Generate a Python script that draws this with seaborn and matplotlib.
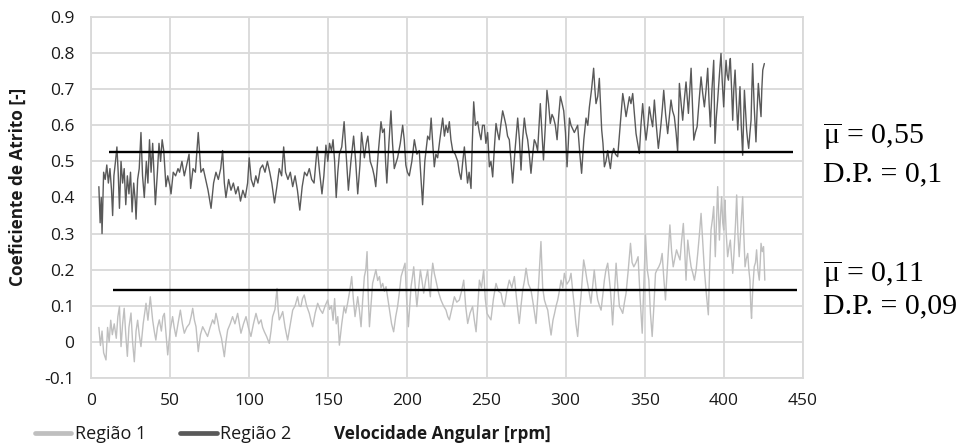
import numpy as np
import pandas as pd
import matplotlib
matplotlib.use("Agg")
import matplotlib.pyplot as plt
from matplotlib.lines import Line2D
import seaborn as sns

# ---------------- data ----------------
x_ticks = [0, 50, 100, 150, 200, 250, 300, 350, 400, 450]
y_ticks = [-0.1, 0, 0.1, 0.2, 0.3, 0.4, 0.5, 0.6, 0.7, 0.8, 0.9]

# Região 2 (dark): (rpm, coeficiente)
regiao2_a = [(5, 0.43), (5.8, 0.33), (6.5, 0.40), (7, 0.30), (8, 0.47), (9, 0.45), (10, 0.49), (11, 0.44),
             (12, 0.48), (13, 0.42), (13.7, 0.35), (14.5, 0.46), (15.5, 0.50), (16.4, 0.54), (17.2, 0.47),
             (18, 0.37), (19, 0.50), (20, 0.44), (21, 0.48), (22, 0.38), (23, 0.46), (24, 0.41), (25, 0.47),
             (26, 0.36), (27, 0.44), (28, 0.39), (28.5, 0.34), (29.5, 0.45), (30.5, 0.48), (31.6, 0.58),
             (32.6, 0.46), (33.7, 0.40), (35, 0.50), (36, 0.44), (37, 0.56), (38, 0.47), (39, 0.55), (40, 0.45),
             (40.7, 0.38), (42, 0.47), (43, 0.55), (44, 0.50), (45, 0.56), (46, 0.53), (47.4, 0.43), (48.5, 0.46),
             (50, 0.43), (50.6, 0.41), (52, 0.47), (53.5, 0.46), (55, 0.48), (56, 0.47), (57.5, 0.50), (59, 0.46),
             (60.5, 0.49), (62, 0.52), (63, 0.425), (64.5, 0.48), (66, 0.47), (67.8, 0.58), (69.5, 0.47),
             (71, 0.48), (72.5, 0.45), (74, 0.42), (75.9, 0.37), (77.5, 0.44), (79, 0.47), (80.5, 0.45),
             (82, 0.48), (83.2, 0.53), (84.3, 0.44), (85.3, 0.40), (87, 0.45), (88.5, 0.42), (90, 0.44),
             (91.5, 0.41), (93, 0.43), (94.5, 0.39), (96, 0.42), (97.5, 0.40), (99, 0.44), (100, 0.51),
             (101.3, 0.45), (102.8, 0.43), (104.2, 0.46), (105.5, 0.44), (107, 0.48), (108.5, 0.49), (110, 0.47),
             (111.5, 0.50), (113, 0.47), (114.3, 0.44), (116, 0.385), (117.5, 0.43), (119, 0.48), (120.5, 0.46),
             (121.8, 0.54), (123, 0.47), (124.5, 0.45), (126, 0.47), (127.5, 0.43), (129, 0.46), (130.5, 0.42),
             (132, 0.365), (133.5, 0.43), (135, 0.47), (136.5, 0.46), (138, 0.48), (139.5, 0.45), (141, 0.44),
             (143, 0.54), (144.5, 0.47), (146, 0.41), (147.2, 0.46), (148.5, 0.545), (149.7, 0.50), (150.8, 0.55)]
regiao2_b = [(152, 0.53), (153, 0.56), (154, 0.50), (155, 0.40), (156, 0.47), (157, 0.52), (158.5, 0.54),
             (160, 0.61), (161.3, 0.52), (162.7, 0.42), (164.3, 0.50), (166, 0.57), (167.3, 0.50), (168.6, 0.41),
             (170, 0.49), (171, 0.58), (172.8, 0.51), (174, 0.55), (175, 0.57), (176.5, 0.50), (178, 0.48),
             (179, 0.46), (180, 0.43), (181.5, 0.52), (183.3, 0.61), (184.3, 0.58), (185.4, 0.59), (186.2, 0.50),
             (187, 0.44), (188.3, 0.55), (189.6, 0.64), (190.6, 0.55), (191.7, 0.48), (193.8, 0.51), (195.5, 0.55),
             (197, 0.60), (198, 0.56), (199, 0.49), (200, 0.47), (201.2, 0.46), (202.8, 0.50), (204.4, 0.56),
             (206, 0.52), (207.5, 0.53), (208.5, 0.46), (209.6, 0.38), (211, 0.50), (212.8, 0.57), (214, 0.56),
             (215, 0.62), (216, 0.55), (217, 0.485), (218, 0.52), (219.1, 0.51), (220.5, 0.56), (222.3, 0.62),
             (223.4, 0.57), (224.4, 0.60), (225.5, 0.58), (226.5, 0.61), (227.5, 0.56), (228.6, 0.53),
             (230.2, 0.52), (231.8, 0.50), (232.8, 0.47), (233.9, 0.45), (235, 0.50), (236, 0.54), (237, 0.49),
             (238, 0.44), (239, 0.47), (240.2, 0.425), (241, 0.55), (241.9, 0.665), (243, 0.60), (244.4, 0.61),
             (245.5, 0.58), (246.5, 0.56), (247.5, 0.60), (248.6, 0.60), (249.6, 0.55), (250.7, 0.58),
             (251.8, 0.485), (252.8, 0.50), (253.9, 0.457), (255, 0.54), (256, 0.605), (257, 0.58), (258, 0.56),
             (259, 0.60), (260.2, 0.64), (261.3, 0.62), (262.3, 0.60), (263.3, 0.57), (264.4, 0.56), (265.5, 0.50),
             (266.5, 0.44), (268, 0.53), (269.7, 0.62), (270.8, 0.56), (271.8, 0.476), (272.8, 0.56), (273.9, 0.62),
             (275, 0.58), (276, 0.56), (277, 0.52), (278.1, 0.467), (279.2, 0.52), (280.2, 0.56), (281.2, 0.55),
             (282.3, 0.53), (283.2, 0.60), (284, 0.66), (285, 0.58), (286, 0.504), (287.2, 0.60), (288.2, 0.697),
             (289.2, 0.66), (290.3, 0.605), (291.4, 0.63), (292.4, 0.62), (293.5, 0.60), (294.6, 0.56),
             (295.7, 0.63), (296.7, 0.68), (297.8, 0.66), (298.8, 0.64), (299.9, 0.58), (300.9, 0.485),
             (301.7, 0.55), (302.4, 0.62)]
regiao2_c = [(303.4, 0.60), (305.5, 0.58), (307.6, 0.60), (309, 0.52), (310.1, 0.467), (311.5, 0.56),
             (312.9, 0.62), (314, 0.60), (315, 0.65), (316.4, 0.70), (317.7, 0.758), (318.5, 0.70), (319.2, 0.66),
             (320.3, 0.68), (321.3, 0.73), (322.8, 0.587), (323.6, 0.55), (324.5, 0.485), (325.5, 0.50),
             (326.6, 0.53), (327.5, 0.50), (328.3, 0.48), (329.3, 0.52), (330.4, 0.536), (331.5, 0.52),
             (332.9, 0.513), (334.5, 0.60), (336.1, 0.688), (337.1, 0.66), (338.2, 0.624), (339.2, 0.65),
             (340.3, 0.679), (341.3, 0.66), (342.4, 0.688), (343.5, 0.63), (344.5, 0.577), (345.5, 0.55),
             (346.6, 0.522), (347.6, 0.60), (348.7, 0.66), (349.8, 0.60), (350.8, 0.559), (351.9, 0.60),
             (352.9, 0.651), (354, 0.62), (355, 0.596), (356.1, 0.67), (357.3, 0.60), (358.6, 0.536), (359.5, 0.57),
             (360.3, 0.605), (361.2, 0.65), (362, 0.697), (363.2, 0.63), (364.5, 0.577), (365.5, 0.62),
             (366.6, 0.67), (367.6, 0.64), (368.7, 0.624), (369.8, 0.58), (370.8, 0.527), (371.9, 0.716),
             (373, 0.66), (374, 0.614), (375, 0.67), (376.1, 0.72), (376.8, 0.68), (377.6, 0.633), (378.5, 0.70),
             (379.3, 0.758), (380.2, 0.65), (381, 0.559), (382, 0.58), (383.1, 0.596), (384.4, 0.67),
             (385.6, 0.734), (386.6, 0.69), (387.7, 0.651), (388.8, 0.70), (389.8, 0.758), (390.7, 0.66),
             (391.5, 0.596), (392.5, 0.70), (393.6, 0.78), (394.4, 0.55), (395.2, 0.62), (396.1, 0.67),
             (397.2, 0.74), (398.2, 0.799), (399, 0.72), (399.9, 0.651), (400.6, 0.72), (401.4, 0.78),
             (402.1, 0.74), (402.9, 0.725), (403.5, 0.76), (404.1, 0.785), (404.9, 0.70), (405.6, 0.614),
             (406.3, 0.70), (407.1, 0.753), (408, 0.66), (408.8, 0.587), (409.5, 0.65), (410.2, 0.707), (411, 0.60),
             (411.9, 0.517), (412.4, 0.60), (413, 0.697), (413.7, 0.64), (414.4, 0.587), (415, 0.56),
             (415.7, 0.536), (416.5, 0.58), (417.2, 0.614), (417.7, 0.70), (418.2, 0.771), (419.2, 0.65),
             (420.3, 0.554), (421, 0.64), (421.8, 0.716), (422.6, 0.67), (423.5, 0.624), (424, 0.70),
             (424.6, 0.753), (425.6, 0.771)]

# Região 1 (light): (rpm, coeficiente)
regiao1_a = [(5, 0.04), (6, -0.01), (7, 0.03), (8, -0.03), (9.5, -0.05), (10.5, 0.04), (11.5, 0.0), (12.5, 0.06),
             (13.5, 0.02), (14.7, 0.05), (16, 0.01), (17, 0.07), (18, 0.098), (19, -0.013), (20, 0.05), (21, 0.093),
             (22, 0.02), (23, -0.04), (24, 0.04), (25.3, 0.08), (26.3, 0.0), (27.4, -0.055), (28.5, 0.03),
             (29.5, 0.06), (30.5, 0.02), (31.6, -0.013), (33, 0.05), (34.8, 0.107), (36, 0.06), (37.5, 0.125),
             (38.3, 0.09), (39, 0.06), (40, 0.03), (41, 0.005), (42, 0.04), (43.2, 0.061), (44.5, 0.03),
             (45.5, 0.07), (46.4, 0.079), (47.5, 0.02), (48.5, -0.036), (50, 0.03), (51.6, 0.07), (52.6, 0.04),
             (53.7, 0.015), (55, 0.05), (56.5, 0.088), (57.8, 0.05), (59, 0.024), (60.5, 0.04), (62.2, 0.05),
             (63.3, 0.07), (64.3, 0.093), (65.4, 0.06), (66.4, 0.042), (67.8, -0.027), (69.2, 0.02), (70.6, 0.042),
             (72, 0.03), (73.7, 0.015), (75.3, 0.04), (76.9, 0.061), (78, 0.05), (79, 0.079), (80, 0.06),
             (81.1, 0.033), (82.5, 0.01), (84.3, -0.041), (85.3, 0.0), (86.4, 0.033), (88, 0.05), (89.5, 0.07),
             (91, 0.05), (92.7, 0.079), (93.8, 0.05), (94.8, 0.024), (96.4, 0.05), (98, 0.07), (99.5, 0.04),
             (101.1, 0.015), (102.7, 0.05), (104.3, 0.079), (106, 0.05), (107.5, 0.061), (108.5, 0.04),
             (109.6, 0.028), (111, 0.015), (112.7, -0.004), (113.8, 0.03), (114.8, 0.07), (116.3, 0.09),
             (117.6, 0.148), (118.3, 0.09), (119, 0.061), (120, 0.07), (121.2, 0.084), (122.7, 0.04),
             (124.3, 0.005), (126, 0.05), (127.5, 0.088), (129, 0.1), (130.6, 0.125), (131.6, 0.1), (132.7, 0.098),
             (133.7, 0.12), (134.8, 0.13), (136.3, 0.1), (138, 0.079), (139, 0.06), (140.1, 0.042), (141.7, 0.08),
             (143.3, 0.107), (144.8, 0.09), (146.4, 0.079), (148, 0.1), (149.6, 0.116), (150.8, 0.09)]
regiao1_b = [(152, 0.10), (153, 0.06), (154, 0.12), (155, 0.05), (156, 0.07), (157, -0.009), (158.5, 0.05),
             (160, 0.098), (161, 0.08), (162.2, 0.107), (163.5, 0.14), (164.8, 0.181), (165.8, 0.12), (166.9, 0.07),
             (167.8, 0.10), (168.6, 0.125), (169.6, 0.09), (170.7, 0.042), (171.8, 0.12), (172.8, 0.181),
             (173.7, 0.2), (174.5, 0.25), (175.3, 0.12), (176, 0.042), (177, 0.1), (178, 0.162), (179, 0.18),
             (180.1, 0.2), (181.2, 0.17), (182.3, 0.181), (183.3, 0.15), (184.4, 0.162), (185.5, 0.14),
             (186.5, 0.153), (187.6, 0.12), (188.6, 0.088), (190, 0.05), (191.3, 0.028), (192.6, 0.07),
             (193.8, 0.098), (195, 0.14), (196, 0.181), (197.3, 0.2), (198.5, 0.218), (199.5, 0.12), (200.6, 0.042),
             (201.5, 0.1), (202.3, 0.153), (203.2, 0.18), (204, 0.208), (205, 0.15), (206, 0.098), (207.1, 0.15),
             (208.2, 0.199), (209.2, 0.17), (210.3, 0.135), (211.5, 0.17), (212.8, 0.199), (213.7, 0.15),
             (214.5, 0.125), (215.2, 0.18), (216, 0.218), (217, 0.19), (218, 0.171), (219.5, 0.14), (221.2, 0.116),
             (222.8, 0.1), (224.4, 0.088), (225.5, 0.07), (226.5, 0.061), (228, 0.09), (229.7, 0.125),
             (231.2, 0.11), (232.8, 0.116), (234.2, 0.14), (235.6, 0.171), (236.8, 0.1), (238.1, 0.051),
             (239.6, 0.08), (241.2, 0.098), (242.3, 0.06), (243.4, 0.028), (244.5, 0.1), (245.5, 0.171),
             (246.8, 0.15), (248.2, 0.199), (249.2, 0.12), (250.3, 0.079), (251.5, 0.07), (252.8, 0.061),
             (254.4, 0.12), (256, 0.162), (257.6, 0.14), (259.2, 0.135), (260.2, 0.11), (261.3, 0.098),
             (262.8, 0.14), (264.4, 0.171), (266, 0.15), (267.6, 0.181), (269.2, 0.11), (270.7, 0.051),
             (271.8, 0.1), (272.9, 0.144), (274, 0.17), (275, 0.204), (276.5, 0.16), (278.1, 0.144), (279.7, 0.1),
             (281.3, 0.051), (282.8, 0.15), (284.4, 0.278), (285.5, 0.15), (286.6, 0.116), (287.7, 0.1),
             (288.7, 0.088), (289.8, 0.05), (290.8, 0.019), (292, 0.06), (293, 0.079), (294, 0.1), (295, 0.116),
             (296, 0.14), (297.1, 0.171), (298.2, 0.15), (299.2, 0.19), (300.8, 0.16), (302.4, 0.171)]
regiao1_c = [(303.4, 0.19), (304.5, 0.14), (305.5, 0.098), (306.5, 0.05), (307.6, 0.015), (308.7, 0.08),
             (309.7, 0.125), (310.6, 0.18), (311.4, 0.227), (312.5, 0.2), (313.5, 0.171), (314.8, 0.14),
             (316, 0.107), (317, 0.15), (318.1, 0.199), (319.2, 0.15), (320.3, 0.116), (321.4, 0.1), (322.4, 0.088),
             (323.5, 0.13), (324.5, 0.171), (325.5, 0.2), (326.6, 0.218), (327.5, 0.18), (328.3, 0.144),
             (329, 0.1), (329.7, 0.047), (330.8, 0.13), (331.9, 0.218), (333, 0.15), (334, 0.098), (335, 0.09),
             (336.1, 0.079), (337.2, 0.11), (338.2, 0.135), (339.6, 0.2), (341, 0.273), (342, 0.22), (343.1, 0.208),
             (344.5, 0.22), (345.8, 0.236), (347.1, 0.12), (348.4, 0.024), (349.4, 0.15), (350.5, 0.296),
             (351.6, 0.2), (352.6, 0.171), (353.6, 0.08), (354.7, 0.015), (355.8, 0.1), (356.8, 0.19), (357.8, 0.2),
             (358.9, 0.208), (360, 0.22), (361, 0.245), (362, 0.18), (363.1, 0.116), (364.5, 0.22), (365.9, 0.324),
             (367, 0.25), (368, 0.208), (369, 0.23), (370.1, 0.255), (371.2, 0.24), (372.3, 0.227), (373.3, 0.28),
             (374.4, 0.328), (375.3, 0.25), (376.1, 0.171), (376.7, 0.23), (377.2, 0.282), (378.3, 0.24),
             (379.3, 0.208), (380.4, 0.19), (381.4, 0.171), (382.5, 0.2), (383.5, 0.245), (384.6, 0.3),
             (385.6, 0.356), (386.6, 0.28), (387.7, 0.199), (389, 0.13), (390.2, 0.075), (391, 0.2), (391.9, 0.31),
             (392.8, 0.34), (393.6, 0.375), (394.1, 0.3), (394.6, 0.236), (395.3, 0.33), (396.1, 0.43),
             (396.7, 0.35), (397.2, 0.282), (397.9, 0.35), (398.6, 0.402), (399.3, 0.33), (399.9, 0.31),
             (400.3, 0.36), (400.7, 0.393), (401.5, 0.3), (402.4, 0.236), (403.2, 0.26), (404.1, 0.282),
             (404.9, 0.23), (405.6, 0.19), (406.1, 0.22), (406.6, 0.264), (407.4, 0.33), (408.1, 0.407),
             (408.9, 0.3), (409.7, 0.236), (410.8, 0.32), (411.9, 0.402), (412.6, 0.3), (413.4, 0.208),
             (414.2, 0.23), (415.1, 0.245), (415.8, 0.2), (416.5, 0.171), (417, 0.1), (417.5, 0.065), (418.3, 0.15),
             (419.2, 0.208), (420, 0.22), (420.7, 0.255), (421.5, 0.2), (422.4, 0.171), (423, 0.22), (423.5, 0.273),
             (424.3, 0.25), (425.1, 0.264), (425.9, 0.171)]

series_names = ["Região 1", "Região 2"]
mean_levels = [0.144, 0.525]
mean_start = [14.0, 11.5]
mean_end = [446.0, 444.0]
annot_lines = ["$\\overline{\\mathrm{μ}}$ = 0,55", "D.P. = 0,1", "$\\overline{\\mathrm{μ}}$ = 0,11", "D.P. = 0,09"]

# ---------------- build table ----------------
rows = []
for name, segs in (("Região 1", [regiao1_a, regiao1_b, regiao1_c]),
                   ("Região 2", [regiao2_a, regiao2_b, regiao2_c])):
    for seg in segs:
        for r, m in seg:
            rows.append({"rpm": r, "mu": m, "serie": name})
df = pd.DataFrame(rows)

# ---------------- style ----------------
sns.set_theme(style="white")
plt.rcParams["font.family"] = ["Open Sans", "DejaVu Sans"]
plt.rcParams["axes.unicode_minus"] = False
plt.rcParams["mathtext.fontset"] = "custom"
plt.rcParams["mathtext.rm"] = "Liberation Serif"
plt.rcParams["mathtext.it"] = "Liberation Serif:italic"
plt.rcParams["mathtext.bf"] = "Liberation Serif:bold"

colors = {"Região 1": "#bfbfbf", "Região 2": "#595959"}
grid_c = "#d9d9d9"
text_c = "#1a1a1a"

fig = plt.figure(figsize=(9.76, 4.46), dpi=100)
ax = fig.add_axes([0.0932, 0.1525, 0.7295, 0.8094])

sns.lineplot(data=df, x="rpm", y="mu", hue="serie", palette=colors, estimator=None,
             sort=False, linewidth=1.0, legend=False, ax=ax, zorder=3)

ax.hlines(mean_levels, mean_start, mean_end, colors="black", linewidth=1.7, zorder=5)

ax.set_xlim(0, 450)
ax.set_ylim(-0.1, 0.9)
ax.set_xticks(x_ticks)
ax.set_yticks(y_ticks)
ax.set_xticklabels([f"{v:g}" for v in x_ticks])
ax.set_yticklabels([f"{v:g}" for v in y_ticks])
ax.tick_params(axis="both", length=0, labelsize=12.5, colors=text_c)
ax.tick_params(axis="x", pad=11)
ax.tick_params(axis="y", pad=12)

ax.grid(True, color=grid_c, linewidth=1.3)
ax.set_axisbelow(True)
for sp in ax.spines.values():
    sp.set_color(grid_c)
    sp.set_linewidth(1.3)

ax.set_ylabel("Coeficiente de Atrito [-]", fontsize=12.3, fontweight="bold", color=text_c)
ax.yaxis.label.set_va("center")
ax.yaxis.set_label_coords(-0.1025, 0.53)
ax.set_xlabel("Velocidade Angular [rpm]", fontsize=12.3, fontweight="bold", color=text_c)
ax.xaxis.label.set_va("center")
ax.xaxis.set_label_coords(0.493, -0.155)

handles = [Line2D([0], [0], color=colors[n], linewidth=3.4) for n in series_names]
fig.legend(handles, series_names, loc="center left", bbox_to_anchor=(0.036, 1 - 434 / 446),
           frameon=False, ncol=2, fontsize=13, handlelength=2.0, handletextpad=0.2,
           columnspacing=1.9, borderpad=0, borderaxespad=0, labelcolor=text_c)

ann_y = [1 - 145 / 446, 1 - 181 / 446, 1 - 283 / 446, 1 - 313 / 446]
for t, yy in zip(annot_lines, ann_y):
    fig.text(0.843, yy, t, fontsize=21.5, family="Liberation Serif", color="black", va="baseline", ha="left")

fig.savefig("out.png", dpi=100)
